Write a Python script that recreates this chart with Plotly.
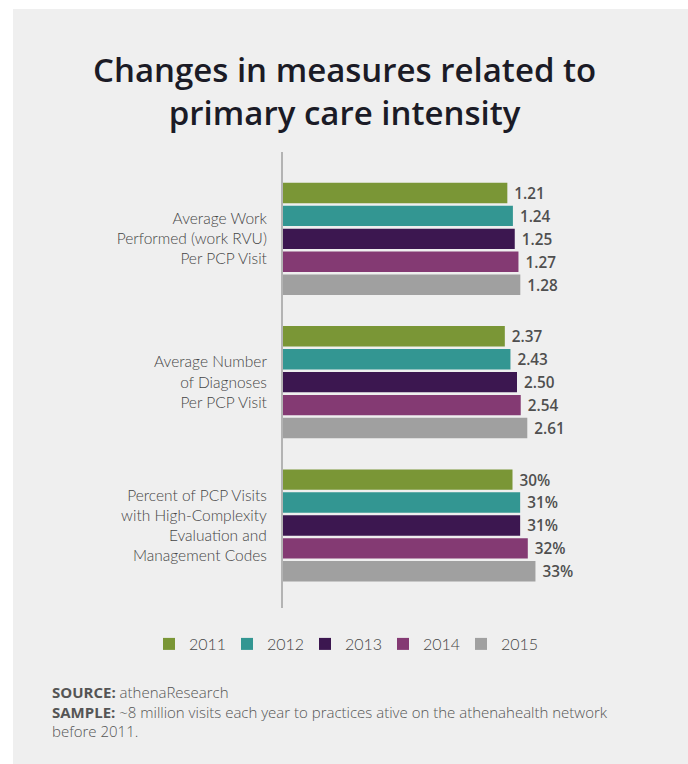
import plotly.graph_objects as go

# ---- data ----
years = ["2011", "2012", "2013", "2014", "2015"]
measures = [
    "Average Work<br>Performed (work RVU)<br>Per PCP Visit",
    "Average Number<br>of Diagnoses<br>Per PCP Visit",
    "Percent of PCP Visits<br>with High-Complexity<br>Evaluation and<br>Management Codes",
]
work_rvu_per_visit = [1.21, 1.24, 1.25, 1.27, 1.28]
diagnoses_per_visit = [2.37, 2.43, 2.50, 2.54, 2.61]
high_complexity_pct = [30, 31, 31, 32, 33]

series = [work_rvu_per_visit, diagnoses_per_visit, high_complexity_pct]
label_formats = ["%{x:.2f}", "%{x:.2f}", "%{x}%"]
year_colors = ["#7a9636", "#339692", "#3c1750", "#843a73", "#a0a0a0"]

title_text = "Changes in measures related to<br>primary care intensity"

# ---- geometry ----
W_FIG, H_FIG = 688, 764
M_L, M_R, M_T, M_B = 283, 0, 152, 156
PLOT_W = W_FIG - M_L - M_R
PLOT_H = H_FIG - M_T - M_B

# each measure gets its own value axis (same domain, different scale)
x_ranges = [PLOT_W / 185.4, PLOT_W / 93.6, PLOT_W / 7.65]


def px_to_paper_x(px):
    return (px - M_L) / PLOT_W


def px_to_paper_y(py):
    return (H_FIG - M_B - py) / PLOT_H


FONT = "Lato"
TEXT_GREY = "#454545"
PANEL = "#efefef"

fig = go.Figure()

for m, (label, values) in enumerate(zip(measures, series)):
    xref = "x" if m == 0 else f"x{m + 1}"
    for k, year in enumerate(years):
        fig.add_trace(
            go.Bar(
                x=[values[k]],
                y=[label],
                orientation="h",
                xaxis=xref,
                yaxis="y",
                name=year,
                legendgroup=year,
                showlegend=(m == 0),
                marker=dict(color=year_colors[k], line=dict(width=0)),
                texttemplate="\u00a0" + label_formats[m],
                textposition="outside",
                cliponaxis=False,
                textfont=dict(family="Open Sans", size=18, color="#4f4f4f", weight=600),
                hoverinfo="skip",
            )
        )

axis_common = dict(visible=False, showgrid=False, zeroline=False, fixedrange=True)
fig.update_layout(
    xaxis=dict(range=[0, x_ranges[0]], domain=[0, 1], anchor="y", **axis_common),
    xaxis2=dict(range=[0, x_ranges[1]], overlaying="x", anchor="y", **axis_common),
    xaxis3=dict(range=[0, x_ranges[2]], overlaying="x", anchor="y", **axis_common),
    yaxis=dict(
        type="category",
        categoryorder="array",
        categoryarray=measures,
        range=[2.576, -0.606],
        showline=True,
        linecolor="#b3b3b3",
        linewidth=2,
        showgrid=False,
        zeroline=False,
        ticks="",
        ticklabelstandoff=11,
        tickfont=dict(family=FONT, size=15.5, color=TEXT_GREY, weight=300),
        fixedrange=True,
    ),
    barmode="group",
    bargap=0.2,
    bargroupgap=0.11,
    width=W_FIG,
    height=H_FIG,
    margin=dict(l=M_L, r=M_R, t=M_T, b=M_B, pad=0, autoexpand=False),
    paper_bgcolor=PANEL,
    plot_bgcolor="rgba(0,0,0,0)",
    legend=dict(
        orientation="h",
        xref="container",
        yref="container",
        x=0.5,
        xanchor="center",
        y=1 - 644 / H_FIG,
        yanchor="middle",
        entrywidth=33,
        entrywidthmode="pixels",
        font=dict(family=FONT, size=16, color=TEXT_GREY, weight=300),
        bgcolor="rgba(0,0,0,0)",
    ),
    showlegend=True,
)

# white strips along the left and top edges, outside the grey panel
fig.add_shape(
    type="rect", xref="paper", yref="paper",
    x0=px_to_paper_x(-2), x1=px_to_paper_x(13),
    y0=px_to_paper_y(H_FIG + 2), y1=px_to_paper_y(-2),
    fillcolor="white", line=dict(width=0), layer="below",
)
fig.add_shape(
    type="rect", xref="paper", yref="paper",
    x0=px_to_paper_x(-2), x1=px_to_paper_x(W_FIG + 2),
    y0=px_to_paper_y(9), y1=px_to_paper_y(-2),
    fillcolor="white", line=dict(width=0), layer="below",
)

# two-line heading
fig.add_annotation(
    text=title_text,
    xref="paper",
    yref="paper",
    x=px_to_paper_x(W_FIG / 2),
    y=px_to_paper_y(91),
    xanchor="center",
    yanchor="middle",
    showarrow=False,
    font=dict(family="Open Sans", size=33, color="#1b1b26", weight=600),
)

fig.add_annotation(
    text=(
        "<b>SOURCE:</b> athenaResearch<br>"
        "<b>SAMPLE:</b> ~8 million visits each year to practices ative on the athenahealth network<br>"
        "before 2011."
    ),
    xref="paper",
    yref="paper",
    x=px_to_paper_x(50),
    y=px_to_paper_y(680),
    xanchor="left",
    yanchor="top",
    align="left",
    showarrow=False,
    font=dict(family="Open Sans", size=15, color="#555555", weight=300),
)

fig.write_html("out.html")
